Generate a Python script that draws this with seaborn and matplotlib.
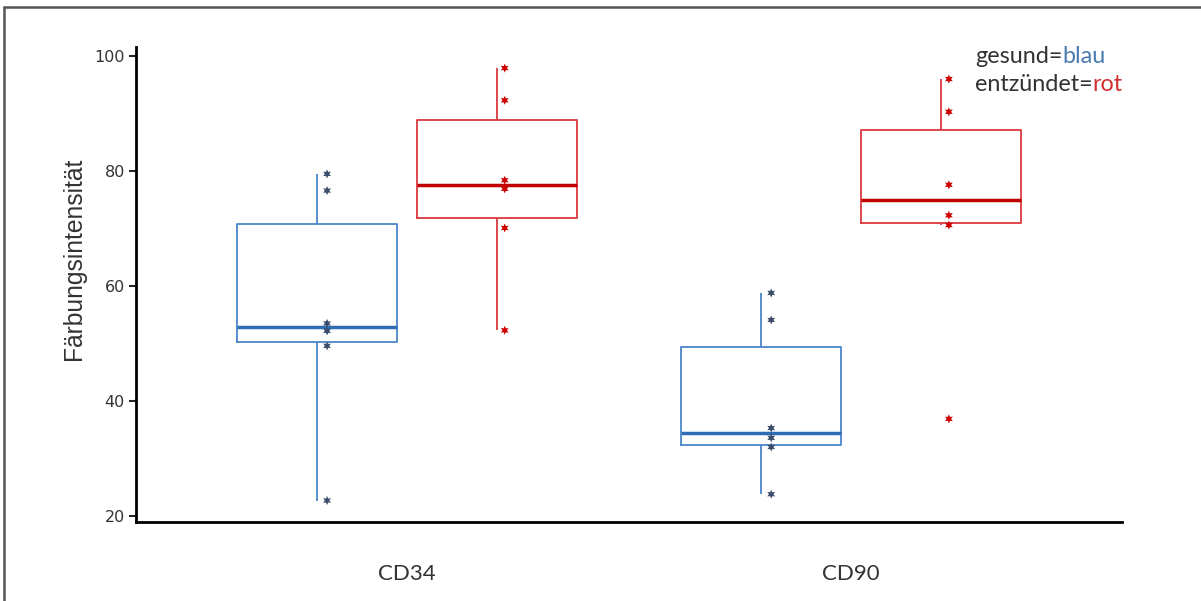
import pandas as pd
import matplotlib
matplotlib.use("Agg")
import matplotlib.pyplot as plt
import matplotlib.transforms as mtransforms
from matplotlib.lines import Line2D
import seaborn as sns

## values
marker = ["CD34"] * 12 + ["CD90"] * 12
status = (["gesund"] * 6 + ["entzündet"] * 6) * 2
cd34_gesund = [22.7, 49.6, 52.2, 53.5, 76.6, 79.5]
cd34_entz = [52.3, 70.1, 76.9, 78.4, 92.3, 97.9]
cd90_gesund = [23.8, 32.0, 33.6, 35.3, 54.1, 58.8]
cd90_entz = [36.9, 70.6, 72.3, 77.6, 90.3, 96.0]

df = pd.DataFrame({
    "marker": marker,
    "status": status,
    "wert": cd34_gesund + cd34_entz + cd90_gesund + cd90_entz,
})

hue_order = ["gesund", "entzündet"]
box_col = {"gesund": "#4a86c8", "entzündet": "#d9393e"}
median_col = {"gesund": "#2e6db4", "entzündet": "#c00000"}
star_col = {"gesund": "#3c4d6b", "entzündet": "#cc0000"}

sns.set_style("white")

fig = plt.figure(figsize=(12.01, 6.01), dpi=100)
ax = fig.add_axes([0.1132, 0.1314, 0.821, 0.7904])

## boxes, one call per group so the medians can be darker
for st in hue_order:
    sub = df[df["status"] == st]
    sns.boxplot(data=sub, x="marker", y="wert", hue="status", hue_order=hue_order,
                order=["CD34", "CD90"], palette=box_col, fill=False, dodge=True,
                width=0.81, gap=0.11, showfliers=False, showcaps=False,
                linewidth=1.3, legend=False, ax=ax,
                medianprops=dict(color=median_col[st], linewidth=2.5))

## stars, shifted a little to the right of the whiskers
n_before = len(ax.collections)
sns.stripplot(data=df, x="marker", y="wert", hue="status", hue_order=hue_order,
              order=["CD34", "CD90"], palette=star_col, dodge=True, jitter=False,
              marker=(6, 1, 0), size=6.5, linewidth=0, legend=False, ax=ax)
shift = mtransforms.ScaledTranslation(0.09, 0, fig.dpi_scale_trans)
for coll in ax.collections[n_before:]:
    coll.set_offset_transform(ax.transData + shift)

ax.set_xlim(-0.61, 1.61)
ax.set_ylim(18.96, 101.57)
ax.set_yticks([20, 40, 60, 80, 100])
ax.set_xlabel("")
ax.set_ylabel("Färbungsintensität", fontsize=17.7, color="#333333", family="Liberation Sans")
ax.yaxis.set_label_coords(-0.051, 0.554)

for side in ["top", "right"]:
    ax.spines[side].set_visible(False)
for side in ["left", "bottom"]:
    ax.spines[side].set_color("black")
    ax.spines[side].set_linewidth(2)

ax.tick_params(axis="y", left=True, direction="out", length=5, width=1.5,
               labelsize=11.5, labelcolor="#333333", pad=3)
ax.tick_params(axis="x", bottom=False, labelsize=16, labelcolor="#333333", pad=27)
for lab in ax.get_xticklabels():
    lab.set_family("Lato")

## legend text, coloured word right after the black part
t1 = ax.text(0.851, 0.979, "gesund=", transform=ax.transAxes, fontsize=16.8,
             family="Lato", color="#333333", va="center")
ax.annotate("blau", xy=(1, 0), xycoords=t1, va="bottom", fontsize=16.8,
            family="Lato", color="#4a7ab0")
t2 = ax.text(0.851, 0.922, "entzündet=", transform=ax.transAxes, fontsize=16.8,
             family="Lato", color="#333333", va="center")
ax.annotate("rot", xy=(1, 0), xycoords=t2, va="bottom", fontsize=16.8,
            family="Lato", color="#d03030")

## frame of the picture (top and left edge)
fig.add_artist(Line2D([0.0035, 1.0], [0.989, 0.989], color="#555555", linewidth=1.8))
fig.add_artist(Line2D([0.0035, 0.0035], [0.0, 0.989], color="#555555", linewidth=1.8))

fig.savefig("out.png", dpi=100, facecolor="white")
